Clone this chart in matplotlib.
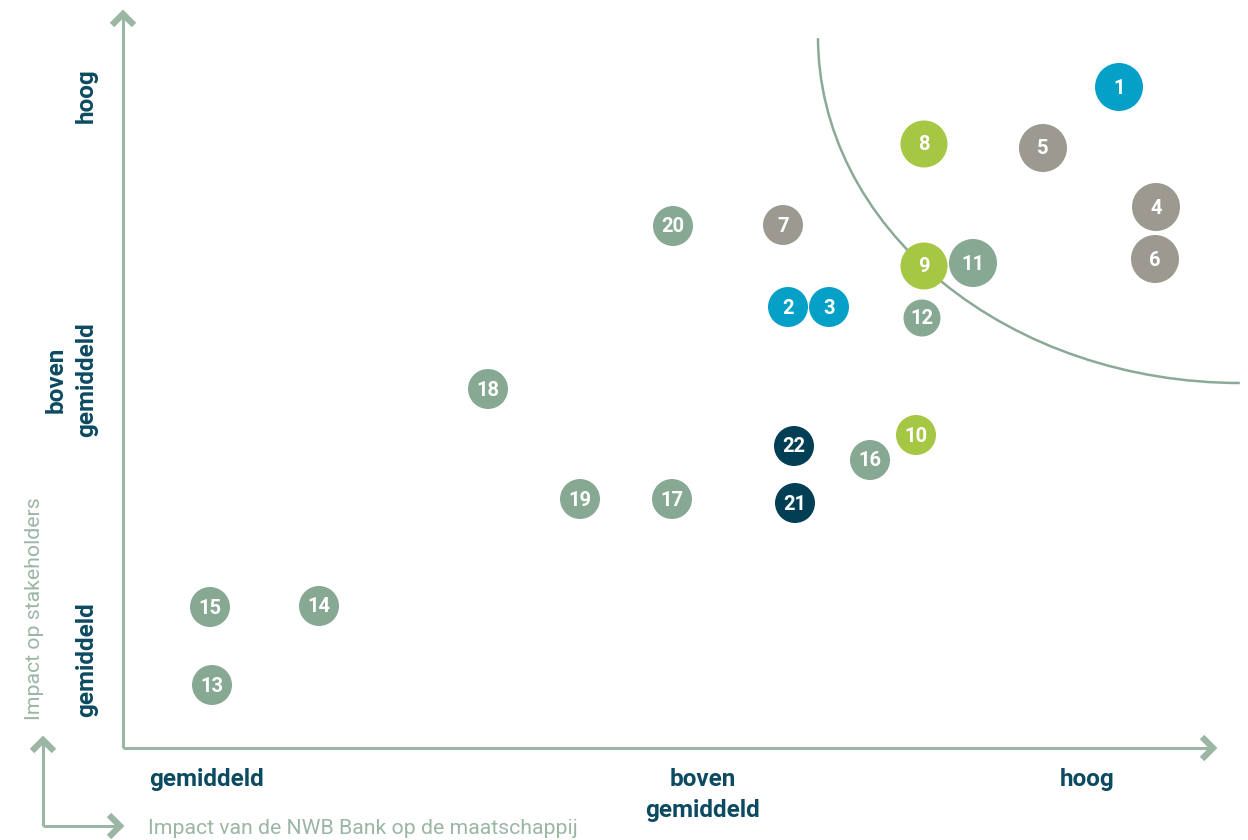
import matplotlib.pyplot as plt
import numpy as np
from matplotlib.patches import Ellipse

# kleuren
blauw = '#05a0c8'
groen = '#a6c744'
grijs = '#9c9991'
salie = '#87a892'
navy = '#023f55'
lijn = '#9bb6a4'
tekst = '#0b4a60'

# onderwerpen: nummer, x (impact maatschappij), y (impact stakeholders), straal, kleur
nummers = [1, 8, 5, 4, 6, 7, 20, 9, 11, 2, 3, 12, 18, 10, 22, 16, 19, 17, 21, 15, 14, 13]
x_pos = [1119, 924, 1043, 1156, 1155, 783, 673, 924, 973, 788, 829, 922, 488, 916, 794, 870, 580, 672, 795, 210, 319, 212]
y_pos = [87, 144, 148, 207, 259, 225, 226, 266, 263, 307, 307, 318, 389, 435, 446, 460, 499, 499, 503, 607, 606, 685]
stralen = [24, 23.5, 24, 24, 24, 20, 20, 23.5, 24, 20, 20, 18.5, 20, 20, 20, 20, 20, 20, 20, 20, 20, 20]
kleuren = [blauw, groen, grijs, grijs, grijs, grijs, salie, groen, salie, blauw, blauw, salie, salie,
           groen, navy, salie, salie, salie, navy, salie, salie, salie]

x_labels = ['gemiddeld', 'boven\ngemiddeld', 'hoog']
x_label_pos = [206, 703, 1087]
y_labels = ['hoog', 'boven\ngemiddeld', 'gemiddeld']
y_label_pos = [96, 380, 660]

fig = plt.figure(figsize=(12.48, 8.4), dpi=100)
ax = fig.add_axes([0, 0, 1, 1])
ax.set_xlim(0, 1248)
ax.set_ylim(840, 0)
ax.axis('off')

font = 'Roboto'

def pijl(x0, y0, x1, y1, kop=11, lw=2.2):
    ax.plot([x0, x1], [y0, y1], color=lijn, lw=lw, solid_capstyle='butt', zorder=1)
    d = np.array([x1 - x0, y1 - y0], dtype=float)
    d /= np.hypot(*d)
    n = np.array([-d[1], d[0]])
    tip = np.array([x1, y1])
    a = tip - d * kop + n * kop
    b = tip - d * kop - n * kop
    ax.plot([a[0], tip[0], b[0]], [a[1], tip[1], b[1]], color=lijn, lw=4.5,
            solid_joinstyle='miter', solid_capstyle='butt', zorder=1)

# assen
pijl(123, 748, 123, 14)
pijl(123, 748, 1213, 748)
# kleine legenda-pijlen
pijl(43, 826, 43, 740)
pijl(43, 826, 120, 826)

# materialiteitsgrens
ell = Ellipse((1240, 37), 2 * 422, 2 * 346, fill=False, edgecolor='#8aaa96', lw=1.8, zorder=2)
ax.add_patch(ell)
ax.add_patch(plt.Rectangle((1240, 0), 20, 840, color='white', zorder=2.5))
ax.add_patch(plt.Rectangle((700, 0), 600, 37, color='white', zorder=2.5))

# bollen
for nr, x, y, r, k in zip(nummers, x_pos, y_pos, stralen, kleuren):
    ax.scatter(x, y, s=(1.44 * r) ** 2, color=k, edgecolors='none', zorder=3)
    ax.text(x, y + 1, str(nr), color='white', fontsize=14.5, fontweight='bold',
            family=font, ha='center', va='center', zorder=4)

for lab, x in zip(x_labels, x_label_pos):
    ax.text(x, 768, lab, color=tekst, fontsize=17.5, fontweight='bold', family=font,
            ha='center', va='top', linespacing=1.45)

for lab, y in zip(y_labels, y_label_pos):
    ax.text(98, y, lab, color=tekst, fontsize=17.5, fontweight='bold', family=font,
            ha='center', va='bottom', rotation=90, rotation_mode='anchor', linespacing=1.4,
            multialignment='center')

ax.text(34, 720, 'Impact op stakeholders', color=lijn, fontsize=15.3, family=font,
        rotation=90, ha='left', va='center', rotation_mode='anchor')
ax.text(148, 828, 'Impact van de NWB Bank op de maatschappij', color=lijn, fontsize=15.3,
        family=font, ha='left', va='center')

fig.savefig('out.png', dpi=100)
